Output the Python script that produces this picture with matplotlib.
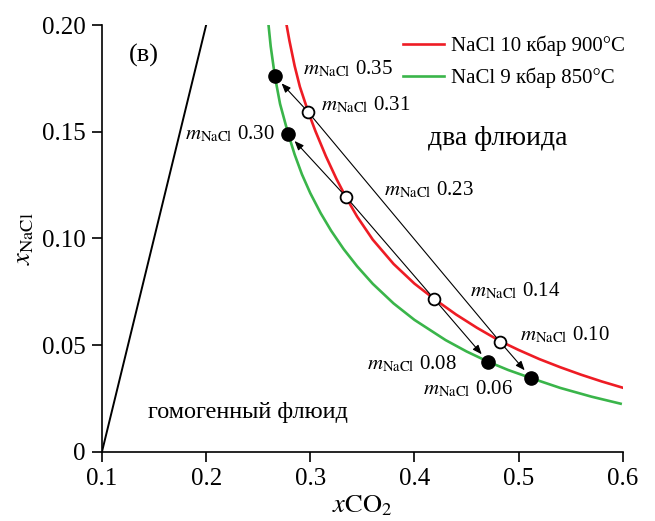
import matplotlib
matplotlib.use("Agg")
import matplotlib.pyplot as plt

plt.rcParams['font.family'] = ['Liberation Serif', 'DejaVu Serif']
plt.rcParams['mathtext.fontset'] = 'stix'

# phase boundary curves
red_x = [0.2767, 0.280, 0.285, 0.290, 0.298, 0.305, 0.315, 0.325, 0.334, 0.345, 0.360,
         0.380, 0.400, 0.419, 0.440, 0.460, 0.482, 0.500, 0.520, 0.540, 0.560, 0.580, 0.600]
red_y = [0.2015, 0.1926, 0.1808, 0.1711, 0.1593, 0.1502, 0.1385, 0.1280, 0.1195, 0.1102, 0.0994,
         0.0880, 0.0788, 0.0716, 0.0643, 0.0581, 0.0519, 0.0477, 0.0434, 0.0396, 0.0361, 0.0329, 0.0300]

green_x = [0.2597, 0.262, 0.266, 0.271, 0.2789, 0.285, 0.292, 0.300, 0.310, 0.320, 0.332,
           0.345, 0.360, 0.380, 0.400, 0.430, 0.450, 0.4707, 0.490, 0.512, 0.540, 0.570, 0.598]
green_y = [0.2010, 0.1900, 0.1760, 0.1630, 0.1488, 0.1393, 0.1300, 0.1212, 0.1118, 0.1036, 0.0950,
           0.0869, 0.0787, 0.0695, 0.0618, 0.0523, 0.0470, 0.0422, 0.0383, 0.0345, 0.0299, 0.0258, 0.0225]

# boundary with homogeneous fluid
line_x = [0.1, 0.2]
line_y = [0.0, 0.2]

# open circles (10 kbar) and filled dots (9 kbar)
open_x = [0.2978, 0.3343, 0.4188, 0.4822]
open_y = [0.1593, 0.1195, 0.0717, 0.0515]
open_m = ['0.31', '0.23', '0.14', '0.10']

fill_x = [0.2661, 0.2786, 0.4707, 0.5120]
fill_y = [0.1760, 0.1490, 0.0422, 0.0347]
fill_m = ['0.35', '0.30', '0.08', '0.06']

# label anchors (left, baseline)
open_lbl = [(0.3103, 0.1598), (0.3708, 0.1203), (0.4534, 0.0727), (0.5014, 0.0524)]
fill_lbl = [(0.2930, 0.1770), (0.1797, 0.1466), (0.3542, 0.0388), (0.4080, 0.0270)]

fig = plt.figure(figsize=(6.55, 5.21), dpi=100)
ax = fig.add_axes([0.1557, 0.1330, 0.7950, 0.8190])

ax.plot(line_x, line_y, color='black', lw=1.4)
ax.plot(red_x, red_y, color='#ee1c24', lw=1.9, label='NaCl 10 кбар 900°C', zorder=2)
ax.plot(green_x, green_y, color='#3ab54a', lw=1.9, label='NaCl 9 кбар 850°C', zorder=2)

# tie lines between open circles, arrows to the filled dots
ax.plot([open_x[0], open_x[3]], [open_y[0], open_y[3]], color='black', lw=0.8, zorder=3)
ax.plot([open_x[1], open_x[2]], [open_y[1], open_y[2]], color='black', lw=0.8, zorder=3)
for i in range(4):
    ax.annotate('', xy=(fill_x[i], fill_y[i]), xytext=(open_x[i], open_y[i]),
                arrowprops=dict(arrowstyle='-|>,head_length=0.55,head_width=0.22',
                                color='black', lw=0.8, shrinkA=4, shrinkB=7),
                zorder=3)

ax.plot(fill_x, fill_y, 'o', color='black', ms=9.5, zorder=4)
ax.plot(open_x, open_y, 'o', mfc='white', mec='black', mew=1.3, ms=8.5, zorder=5)

for (tx, ty), m in zip(open_lbl + fill_lbl, open_m + fill_m):
    ax.text(tx, ty, r'$m_{\mathrm{NaCl}}$' + ' ' + m, fontsize=15,
            ha='left', va='baseline')

ax.text(0.1259, 0.1855, '(в)', fontsize=19, ha='left', va='center')
ax.text(0.413, 0.1438, 'два флюида', fontsize=20, ha='left', va='baseline')
ax.text(0.1442, 0.0158, 'гомогенный флюид', fontsize=17.5, ha='left', va='baseline')

ax.set_xlim(0.1, 0.6)
ax.set_ylim(0, 0.2)
ax.set_xticks([0.1, 0.2, 0.3, 0.4, 0.5, 0.6])
ax.set_xticklabels(['0.1', '0.2', '0.3', '0.4', '0.5', '0.6'])
ax.set_yticks([0, 0.05, 0.10, 0.15, 0.20])
ax.set_yticklabels(['0', '0.05', '0.10', '0.15', '0.20'])
ax.tick_params(direction='out', length=7, width=1.2, labelsize=18, pad=5)
for s in ['top', 'right']:
    ax.spines[s].set_visible(False)
for s in ['left', 'bottom']:
    ax.spines[s].set_linewidth(1.2)

ax.set_xlabel(r'$x\mathrm{CO}_2$', fontsize=19, labelpad=2)
ax.set_ylabel(r'$x_{\mathrm{NaCl}}$', fontsize=19, labelpad=4)

ax.legend(loc='upper left', bbox_to_anchor=(0.5775, 0.975), frameon=False,
          fontsize=15, handlelength=2.0, handletextpad=0.3, labelspacing=0.55,
          borderpad=0, borderaxespad=0)

fig.savefig('out.png', dpi=100)
